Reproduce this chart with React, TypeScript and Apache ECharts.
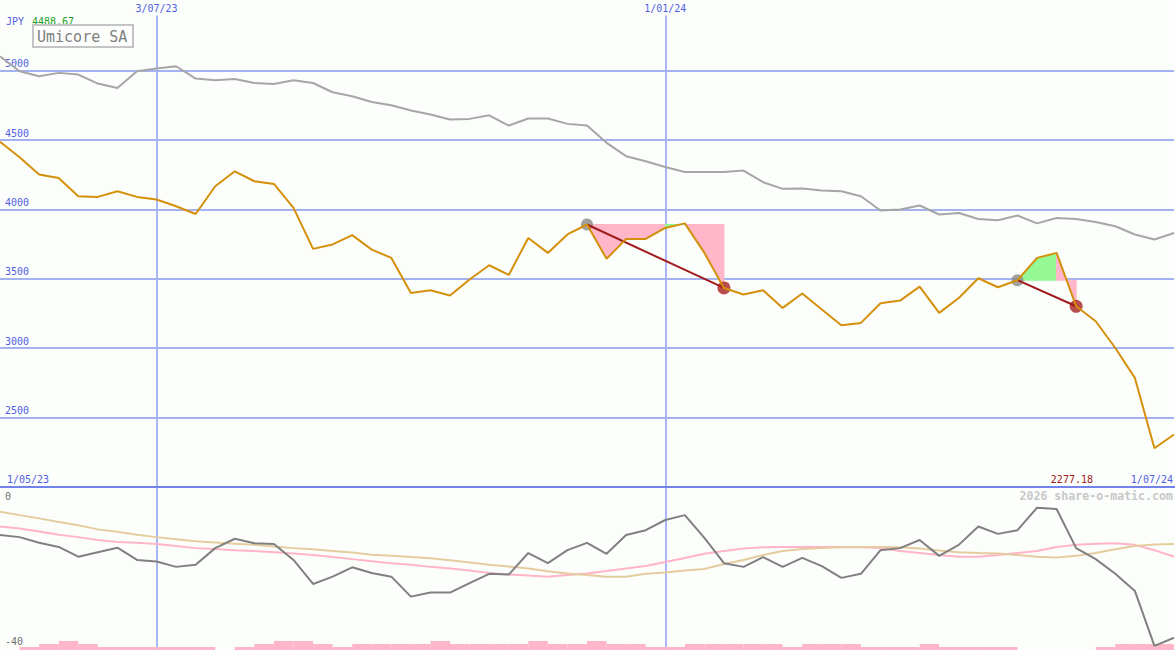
import React, { useEffect, useRef } from "react";
import * as echarts from "echarts";

// ---------- data ----------
const dates = [
  "8/05/23", "15/05/23", "22/05/23", "29/05/23", "5/06/23", "12/06/23", "19/06/23", "26/06/23",
  "3/07/23", "10/07/23", "17/07/23", "24/07/23", "31/07/23", "7/08/23", "14/08/23", "21/08/23",
  "28/08/23", "4/09/23", "11/09/23", "18/09/23", "25/09/23", "2/10/23", "9/10/23", "16/10/23",
  "23/10/23", "30/10/23", "6/11/23", "13/11/23", "20/11/23", "27/11/23", "4/12/23", "11/12/23",
  "18/12/23", "25/12/23", "1/01/24", "8/01/24", "15/01/24", "22/01/24", "29/01/24", "5/02/24",
  "12/02/24", "19/02/24", "26/02/24", "4/03/24", "11/03/24", "18/03/24", "25/03/24", "1/04/24",
  "8/04/24", "15/04/24", "22/04/24", "29/04/24", "6/05/24", "13/05/24", "20/05/24", "27/05/24",
  "3/06/24", "10/06/24", "17/06/24", "24/06/24", "1/07/24",
];
const markDates = ["3/07/23", "1/01/24"];
const edgeDates = ["1/05/23", "1/07/24"];

const price = [
  4488.67, 4377, 4252, 4228, 4096, 4091, 4132, 4091, 4072, 4024,
  3968, 4168, 4276, 4204, 4185, 4012, 3716, 3748, 3815, 3711,
  3651, 3398, 3418, 3380, 3495, 3598, 3528, 3795, 3687, 3820,
  3892, 3644, 3788, 3788, 3867, 3900, 3687, 3434, 3387, 3418,
  3290, 3394, 3278, 3165, 3182, 3324, 3343, 3444, 3254, 3362,
  3504, 3439, 3490, 3651, 3687, 3302, 3194, 3001, 2785, 2277.18,
  2377,
];
const benchmark = [
  5106, 4998, 4962, 4986, 4974, 4909, 4877, 4998, 5017, 5034,
  4945, 4933, 4942, 4913, 4906, 4933, 4913, 4846, 4817, 4776,
  4753, 4714, 4685, 4649, 4654, 4680, 4606, 4657, 4657, 4618,
  4606, 4481, 4385, 4348, 4307, 4271, 4271, 4271, 4281, 4197,
  4149, 4152, 4137, 4132, 4096, 3993, 4000, 4029, 3964, 3975,
  3932, 3923, 3957, 3900, 3939, 3932, 3910, 3879, 3820, 3784,
  3831,
];
const priceGridValues = [2500, 3000, 3500, 4000, 4500, 5000];

const tradeEntries = [30, 52];
const tradeExits = [37, 55];

const momentum = [
  -11.8, -12.3, -13.7, -14.7, -17.1, -16.0, -14.9, -17.9, -18.3, -19.6,
  -19.1, -15.0, -12.7, -13.8, -14.0, -17.9, -23.8, -22.0, -19.7, -21.1,
  -22.0, -26.9, -25.9, -25.9, -23.6, -21.3, -21.5, -16.2, -18.7, -15.5,
  -13.7, -16.4, -11.8, -10.6, -8.1, -6.9, -12.5, -18.7, -19.6, -17.2,
  -19.6, -17.4, -19.4, -22.3, -21.3, -15.5, -15.0, -13.0, -16.9, -14.2,
  -9.7, -11.5, -10.6, -5.1, -5.4, -15.0, -17.7, -21.3, -25.5, -39.0,
  -37.0,
];
const pinkAvg = [
  -9.7, -10.2, -10.9, -11.7, -12.3, -13.0, -13.5, -13.7, -14.0, -14.5,
  -15.0, -15.2, -15.5, -15.7, -16.0, -16.3, -16.7, -17.2, -17.7, -18.2,
  -18.7, -19.1, -19.6, -20.0, -20.5, -21.1, -21.5, -21.7, -22.0, -21.6,
  -21.2, -20.6, -20.0, -19.4, -18.4, -17.4, -16.4, -15.7, -15.1, -14.8,
  -14.7, -14.7, -14.7, -14.7, -14.8, -15.0, -15.7, -16.2, -16.7, -17.1,
  -17.1, -16.7, -16.2, -15.7, -14.7, -14.2, -13.9, -13.8, -14.2, -15.5,
  -17.1,
];
const tanAvg = [
  -6.1, -6.9, -7.7, -8.6, -9.4, -10.4, -11.0, -11.7, -12.3, -12.8,
  -13.3, -13.6, -13.9, -14.2, -14.6, -15.0, -15.3, -15.7, -16.1, -16.6,
  -16.9, -17.2, -17.5, -18.0, -18.5, -19.1, -19.5, -20.0, -20.7, -21.2,
  -21.6, -22.0, -22.0, -21.3, -21.0, -20.5, -20.1, -18.9, -17.9, -16.7,
  -15.7, -15.2, -15.0, -14.8, -14.7, -14.7, -14.8, -15.1, -15.6, -16.0,
  -16.2, -16.3, -16.7, -17.1, -17.3, -16.9, -16.2, -15.3, -14.5, -14.1,
  -14.0,
];
// weekly bars between consecutive points (60 intervals)
const volumeBars = [
  0, 1, 2, 3, 2, 1, 1, 1, 1, 1,
  1, 0, 1, 2, 3, 3, 2, 1, 2, 2,
  2, 2, 3, 2, 2, 2, 2, 3, 2, 2,
  3, 2, 2, 1, 1, 2, 2, 2, 2, 2,
  1, 2, 2, 2, 1, 1, 1, 2, 1, 1,
  1, 1, 0, 0, 0, 0, 1, 2, 2, 2,
];

const title = "Umicore SA";
const currency = "JPY";
const maxLabel = "4488.67";
const minLabel = "2277.18";
const watermark = "2026 share-o-matic.com";

// ---------- styles ----------
const FONT = "'DejaVu Sans Mono', monospace";
const BG = "#fcfefc";
const BLUE_TXT = "#5060e4";
const GRID_H = "#a4b2f2";
const GRID_V = "#a8b6f6";
const PINK = "#ffb6c9";
const GREEN = "#94f894";

export default function App() {
  const ref = useRef<HTMLDivElement>(null);

  useEffect(() => {
    if (!ref.current) return;
    const chart = echarts.init(ref.current, undefined, { renderer: "svg" });

    const segs: number[][] = [];
    tradeEntries.forEach((e, t) => {
      const x = tradeExits[t];
      for (let j = e; j < x; j++) {
        segs.push([j, price[e], price[j], price[j + 1], price[j + 1] >= price[e] ? 1 : 0]);
      }
    });

    const tradeLines = tradeEntries.map((e, t) => ({
      type: "line",
      xAxisIndex: 0,
      yAxisIndex: 0,
      data: [
        [e, price[e]],
        [tradeExits[t], price[tradeExits[t]]],
      ],
      showSymbol: false,
      symbol: "none",
      lineStyle: { color: "#a01c1c", width: 2 },
      z: 4,
      silent: true,
    }));

    const isMark = (_i: number, v: string) => markDates.includes(v);

    const option: any = {
      animation: false,
      backgroundColor: BG,
      grid: [
        { left: 0, top: 15.5, width: 1174, height: 471.2 },
        { left: 0, top: 487, width: 1174, height: 163 },
      ],
      xAxis: [
        {
          gridIndex: 0,
          type: "category",
          data: dates,
          boundaryGap: false,
          position: "top",
          axisLine: { show: false },
          axisTick: { show: false },
          axisLabel: {
            interval: isMark,
            color: BLUE_TXT,
            fontFamily: FONT,
            fontSize: 10,
            margin: 2,
          },
          splitLine: { show: true, interval: isMark, lineStyle: { color: GRID_V, width: 2 } },
        },
        {
          gridIndex: 1,
          type: "category",
          data: dates,
          boundaryGap: false,
          axisLine: { show: false },
          axisTick: { show: false },
          axisLabel: { show: false },
          splitLine: { show: true, interval: isMark, lineStyle: { color: GRID_V, width: 2 } },
        },
        {
          gridIndex: 1,
          type: "category",
          data: dates.slice(0, 60),
          boundaryGap: true,
          show: false,
        },
      ],
      yAxis: [
        {
          gridIndex: 0,
          type: "value",
          min: 2000,
          max: 5400,
          interval: 500,
          axisLine: { show: false },
          axisTick: { show: false },
          splitLine: { show: false },
          axisLabel: {
            inside: true,
            margin: 5,
            verticalAlign: "bottom",
            padding: [0, 0, 2, 0],
            color: BLUE_TXT,
            fontFamily: FONT,
            fontSize: 10,
            formatter: (v: number) => (priceGridValues.includes(v) ? String(v) : ""),
          },
        },
        {
          gridIndex: 1,
          type: "value",
          min: -40,
          max: 0,
          interval: 40,
          axisLine: { show: false },
          axisTick: { show: false },
          splitLine: { show: false },
          axisLabel: {
            inside: true,
            margin: 5,
            padding: [4, 0, 4, 0],
            color: "#707070",
            fontFamily: FONT,
            fontSize: 10,
            verticalAlignMinLabel: "bottom",
            verticalAlignMaxLabel: "top",
          },
        },
        { gridIndex: 1, type: "value", min: 0, max: 54, show: false },
      ],
      series: [
        {
          type: "line",
          xAxisIndex: 0,
          yAxisIndex: 0,
          data: benchmark,
          showSymbol: false,
          symbol: "none",
          lineStyle: { color: "#a6a6a6", width: 2 },
          z: 2,
          silent: true,
          markLine: {
            silent: true,
            symbol: "none",
            label: { show: false },
            lineStyle: { color: GRID_H, width: 2, type: "solid" },
            data: priceGridValues.map((v) => ({ yAxis: v })),
            z: 1,
          },
        },
        {
          type: "custom",
          xAxisIndex: 0,
          yAxisIndex: 0,
          data: segs,
          z: 2,
          silent: true,
          renderItem: (_p: any, api: any) => {
            const j = api.value(0);
            const e = api.value(1);
            const a = api.value(2);
            const b = api.value(3);
            const up = api.value(4);
            const p1 = api.coord([j, e]);
            const p2 = api.coord([j, a]);
            const p3 = api.coord([j + 1, b]);
            const p4 = api.coord([j + 1, e]);
            const c = up ? GREEN : PINK;
            return {
              type: "polygon",
              shape: { points: [p1, p2, p3, p4] },
              style: { fill: c, stroke: c, lineWidth: 1 },
            };
          },
        },
        {
          type: "scatter",
          xAxisIndex: 0,
          yAxisIndex: 0,
          data: tradeEntries.map((e) => [e, price[e]]),
          symbolSize: 12,
          itemStyle: { color: "#888888" },
          z: 3,
          silent: true,
        },
        {
          type: "scatter",
          xAxisIndex: 0,
          yAxisIndex: 0,
          data: tradeExits.map((e) => [e, price[e]]),
          symbolSize: 13,
          itemStyle: { color: "#a82020" },
          z: 3,
          silent: true,
        },
        ...tradeLines,
        {
          type: "line",
          xAxisIndex: 0,
          yAxisIndex: 0,
          data: price,
          showSymbol: false,
          symbol: "none",
          lineStyle: { color: "#d4900a", width: 2 },
          z: 5,
          silent: true,
        },
        {
          type: "bar",
          xAxisIndex: 2,
          yAxisIndex: 2,
          data: volumeBars,
          barWidth: "100%",
          barGap: "0%",
          itemStyle: { color: PINK },
          silent: true,
          z: 2,
        },
        {
          type: "line",
          xAxisIndex: 1,
          yAxisIndex: 1,
          data: pinkAvg,
          showSymbol: false,
          symbol: "none",
          lineStyle: { color: "#ffb4c8", width: 2 },
          z: 3,
          silent: true,
        },
        {
          type: "line",
          xAxisIndex: 1,
          yAxisIndex: 1,
          data: tanAvg,
          showSymbol: false,
          symbol: "none",
          lineStyle: { color: "#e4cc9e", width: 2 },
          z: 3,
          silent: true,
        },
        {
          type: "line",
          xAxisIndex: 1,
          yAxisIndex: 1,
          data: momentum,
          showSymbol: false,
          symbol: "none",
          lineStyle: { color: "#808080", width: 2 },
          z: 4,
          silent: true,
        },
      ],
      graphic: [
        {
          type: "line",
          shape: { x1: 0, y1: 487, x2: 1175, y2: 487 },
          style: { stroke: "#7383ea", lineWidth: 2 },
          z: 10,
          silent: true,
        },
        {
          type: "text",
          x: 6,
          y: 21,
          style: { text: currency, fill: BLUE_TXT, font: `10px ${FONT}`, verticalAlign: "middle" },
          z: 10,
        },
        {
          type: "text",
          x: 32,
          y: 21,
          style: { text: maxLabel, fill: "#22a022", font: `10px ${FONT}`, verticalAlign: "middle" },
          z: 10,
        },
        {
          type: "rect",
          shape: { x: 33, y: 25, width: 100, height: 22 },
          style: { fill: BG, stroke: "#c4c4c4", lineWidth: 2 },
          z: 10,
        },
        {
          type: "text",
          x: 37,
          y: 36.5,
          style: { text: title, fill: "#808080", font: `15px ${FONT}`, verticalAlign: "middle" },
          z: 11,
        },
        {
          type: "text",
          x: 7,
          y: 479.5,
          style: { text: edgeDates[0], fill: BLUE_TXT, font: `10px ${FONT}`, verticalAlign: "middle" },
          z: 10,
        },
        {
          type: "text",
          x: 1173,
          y: 479.5,
          style: {
            text: edgeDates[1],
            fill: BLUE_TXT,
            font: `10px ${FONT}`,
            verticalAlign: "middle",
            align: "right",
          },
          z: 10,
        },
        {
          type: "text",
          x: 1093,
          y: 479.5,
          style: {
            text: minLabel,
            fill: "#a02020",
            font: `10px ${FONT}`,
            verticalAlign: "middle",
            align: "right",
          },
          z: 10,
        },
        {
          type: "text",
          x: 1173,
          y: 496,
          style: {
            text: watermark,
            fill: "#c8c8c8",
            font: `bold 11.6px ${FONT}`,
            verticalAlign: "middle",
            align: "right",
          },
          z: 10,
        },
      ],
    };

    chart.setOption(option);
    return () => chart.dispose();
  }, []);

  return (
    <div
      ref={ref}
      style={{ position: "fixed", left: 0, top: 0, width: 1175, height: 650, background: BG }}
    />
  );
}
